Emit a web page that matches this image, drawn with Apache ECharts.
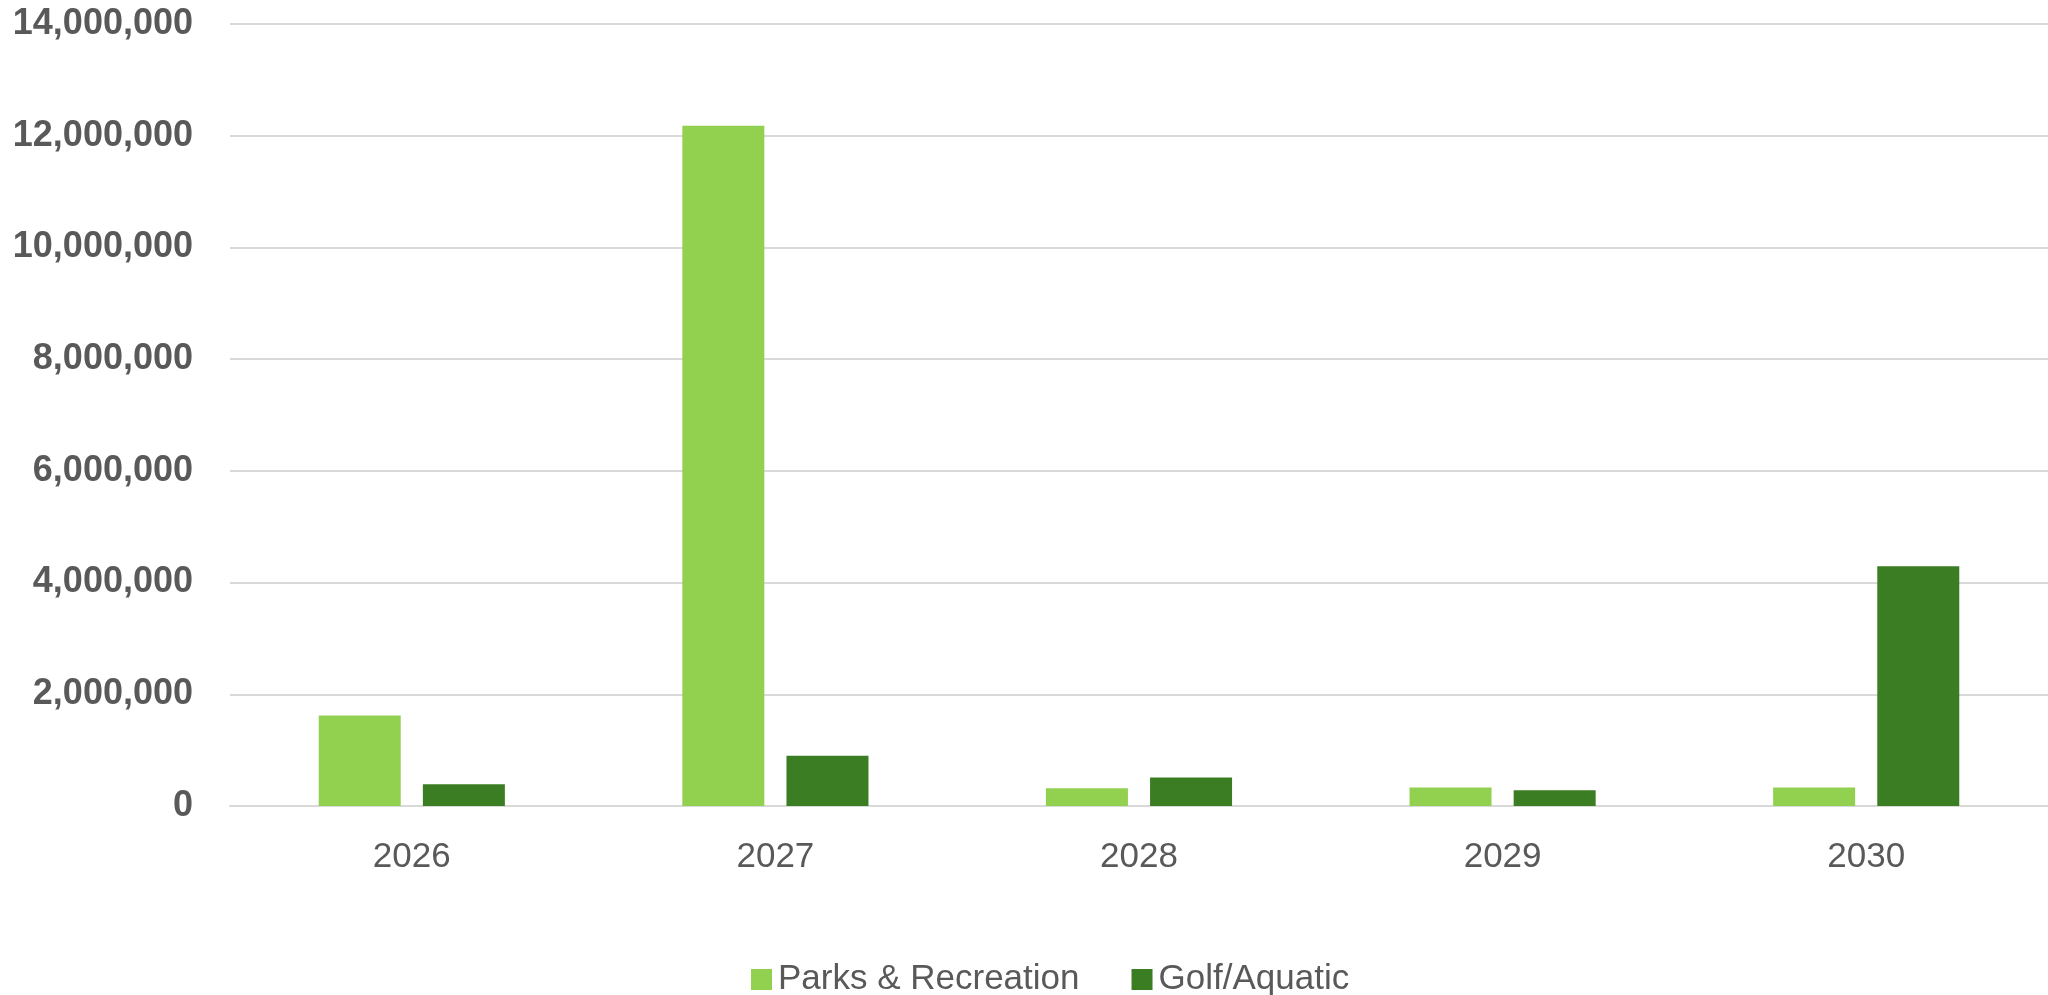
<!DOCTYPE html>
<html>
<head>
<meta charset="utf-8">
<title>Capital Spending by Year</title>
<script src="https://cdn.jsdelivr.net/npm/echarts@6/dist/echarts.min.js"></script>
<style>
  html, body { margin: 0; padding: 0; background: #ffffff; }
  #chart { width: 2048px; height: 995px; }
</style>
</head>
<body>
<div id="chart"></div>
<script>
// Fiscal years on the category axis
const years = ['2026', '2027', '2028', '2029', '2030'];

// Spending per year, by department
const parksRecreation = [1620000, 12180000, 320000, 330000, 330000];
const golfAquatic = [390000, 900000, 510000, 280000, 4290000];

// Value axis range and step
const yMin = 0;
const yMax = 14000000;
const yStep = 2000000;

const textColor = '#595959';
const gridColor = '#d9d9d9';
const fontFamily = '"Liberation Sans", Arial, sans-serif';

const chart = echarts.init(document.getElementById('chart'), null, { renderer: 'canvas' });

chart.setOption({
  backgroundColor: '#ffffff',
  animation: false,
  grid: {
    left: 230,
    right: 0,
    top: 24,
    bottom: 189,
    containLabel: false
  },
  legend: {
    left: 746,
    top: 957,
    itemWidth: 21,
    itemHeight: 21,
    itemGap: 52,
    icon: 'rect',
    textStyle: {
      color: textColor,
      fontFamily: fontFamily,
      fontSize: 35,
      padding: [0, 0, 0, 1]
    },
    data: ['Parks & Recreation', 'Golf/Aquatic']
  },
  xAxis: {
    type: 'category',
    data: years,
    axisLine: { show: true, lineStyle: { color: gridColor, width: 2 } },
    axisTick: { show: false },
    axisLabel: {
      color: textColor,
      fontFamily: fontFamily,
      fontSize: 35,
      margin: 34
    }
  },
  yAxis: {
    type: 'value',
    min: yMin,
    max: yMax,
    interval: yStep,
    axisLine: { show: false },
    axisTick: { show: false },
    splitLine: { lineStyle: { color: gridColor, width: 2 } },
    axisLabel: {
      color: textColor,
      fontFamily: fontFamily,
      fontSize: 36,
      fontWeight: 'bold',
      margin: 37,
      formatter: v => v.toLocaleString('en-US')
    }
  },
  series: [
    {
      name: 'Parks & Recreation',
      type: 'bar',
      data: parksRecreation,
      barWidth: 82,
      barGap: '27%',
      itemStyle: { color: '#92d050' }
    },
    {
      name: 'Golf/Aquatic',
      type: 'bar',
      data: golfAquatic,
      barWidth: 82,
      barGap: '27%',
      itemStyle: { color: '#3a7d22' }
    }
  ]
});
</script>
</body>
</html>
